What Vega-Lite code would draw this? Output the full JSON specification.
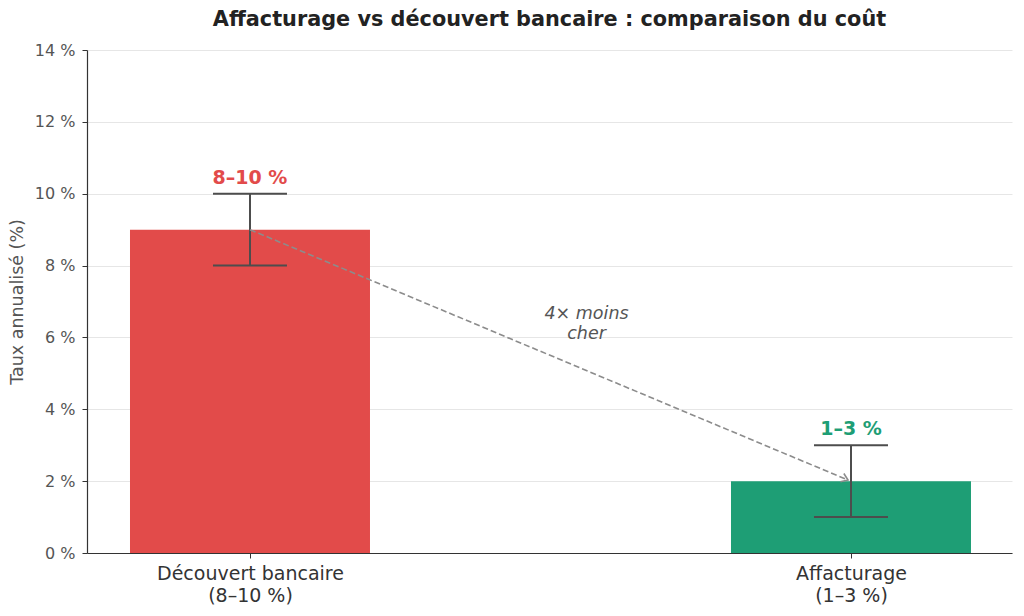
{
  "$schema": "https://vega.github.io/schema/vega-lite/v6.json",
  "width": 925,
  "height": 503,
  "autosize": {"type": "none"},
  "padding": {"left": 87, "top": 50, "right": 12, "bottom": 63},
  "background": "white",
  "title": {
    "text": "Affacturage vs découvert bancaire : comparaison du coût",
    "anchor": "middle",
    "font": "DejaVu Sans",
    "fontSize": 20.8,
    "fontWeight": "bold",
    "color": "#222222",
    "offset": 11
  },
  "datasets": {
    "bars": [
      {"option": "Découvert bancaire", "pos": 0, "mid": 9, "lo": 8, "hi": 10, "range": "8–10 %"},
      {"option": "Affacturage", "pos": 1, "mid": 2, "lo": 1, "hi": 3, "range": "1–3 %"}
    ],
    "arrow": [
      {"x": 0, "y": 9},
      {"x": 0.995, "y": 2.03}
    ],
    "note": [
      {"x": 0.56, "y": 6.65, "text": "4× moins\ncher"}
    ]
  },
  "layer": [
    {
      "data": {"name": "bars"},
      "mark": {"type": "bar", "orient": "vertical", "size": 240},
      "encoding": {
        "x": {
          "field": "pos",
          "type": "quantitative",
          "scale": {"domain": [-0.2712, 1.2679], "nice": false, "zero": false, "padding": 0},
          "axis": {
            "values": [0, 1],
            "title": null,
            "grid": false,
            "labelExpr": "datum.value == 0 ? ['Découvert bancaire', '(8–10 %)'] : ['Affacturage', '(1–3 %)']",
            "labelFontSize": 19,
            "labelColor": "#333333",
            "labelPadding": 6,
            "labelLineHeight": 22,
            "labelLimit": 0,
            "tickSize": 5,
            "tickColor": "#333333",
            "domainColor": "#333333",
            "domainWidth": 1.2
          }
        },
        "y": {
          "field": "mid",
          "type": "quantitative",
          "scale": {"domain": [0, 14], "nice": false},
          "axis": {
            "values": [0, 2, 4, 6, 8, 10, 12, 14],
            "labelExpr": "datum.value + ' %'",
            "title": "Taux annualisé (%)",
            "titleFontSize": 17.5,
            "titleFontWeight": "normal",
            "titleColor": "#555555",
            "titlePadding": 8,
            "labelFontSize": 16,
            "labelColor": "#555555",
            "labelPadding": 7,
            "tickSize": 5,
            "tickColor": "#333333",
            "domainColor": "#333333",
            "domainWidth": 1.2,
            "gridColor": "#e6e6e6",
            "gridWidth": 1
          }
        },
        "color": {
          "field": "option",
          "type": "nominal",
          "scale": {"domain": ["Découvert bancaire", "Affacturage"], "range": ["#e24b4a", "#1e9e75"]},
          "legend": null
        }
      }
    },
    {
      "data": {"name": "bars"},
      "mark": {"type": "rule", "color": "#4d4d4d", "strokeWidth": 2},
      "encoding": {
        "x": {"field": "pos", "type": "quantitative"},
        "y": {"field": "lo", "type": "quantitative"},
        "y2": {"field": "hi"}
      }
    },
    {
      "data": {"name": "bars"},
      "mark": {"type": "tick", "orient": "horizontal", "size": 74, "thickness": 2, "color": "#4d4d4d", "opacity": 1},
      "encoding": {
        "x": {"field": "pos", "type": "quantitative"},
        "y": {"field": "lo", "type": "quantitative"}
      }
    },
    {
      "data": {"name": "bars"},
      "mark": {"type": "tick", "orient": "horizontal", "size": 74, "thickness": 2, "color": "#4d4d4d", "opacity": 1},
      "encoding": {
        "x": {"field": "pos", "type": "quantitative"},
        "y": {"field": "hi", "type": "quantitative"}
      }
    },
    {
      "data": {"name": "bars"},
      "mark": {"type": "text", "baseline": "bottom", "dy": -6, "font": "DejaVu Sans", "fontSize": 19, "fontWeight": "bold"},
      "encoding": {
        "x": {"field": "pos", "type": "quantitative"},
        "y": {"field": "hi", "type": "quantitative"},
        "text": {"field": "range"},
        "color": {"field": "option", "type": "nominal"}
      }
    },
    {
      "data": {"name": "arrow"},
      "mark": {"type": "line", "color": "#8c8c8c", "strokeWidth": 1.6, "strokeDash": [6, 3]},
      "encoding": {
        "x": {"field": "x", "type": "quantitative"},
        "y": {"field": "y", "type": "quantitative"}
      }
    },
    {
      "data": {"name": "arrow"},
      "transform": [{"filter": "datum.x > 0.5"}],
      "mark": {
        "type": "point",
        "shape": "M-1,-0.7L0,0L-1,0.7",
        "filled": false,
        "size": 160,
        "angle": 22.7,
        "stroke": "#8c8c8c",
        "strokeWidth": 1.6,
        "opacity": 1
      },
      "encoding": {
        "x": {"field": "x", "type": "quantitative"},
        "y": {"field": "y", "type": "quantitative"}
      }
    },
    {
      "data": {"name": "note"},
      "mark": {
        "type": "text",
        "lineBreak": "\n",
        "align": "center",
        "baseline": "middle",
        "font": "DejaVu Sans",
        "fontSize": 17.5,
        "fontStyle": "italic",
        "color": "#555555",
        "lineHeight": 20
      },
      "encoding": {
        "x": {"field": "x", "type": "quantitative"},
        "y": {"field": "y", "type": "quantitative"},
        "text": {"field": "text"}
      }
    }
  ],
  "config": {
    "view": {"stroke": null},
    "font": "DejaVu Sans",
    "axis": {"labelFont": "DejaVu Sans", "titleFont": "DejaVu Sans"}
  }
}
